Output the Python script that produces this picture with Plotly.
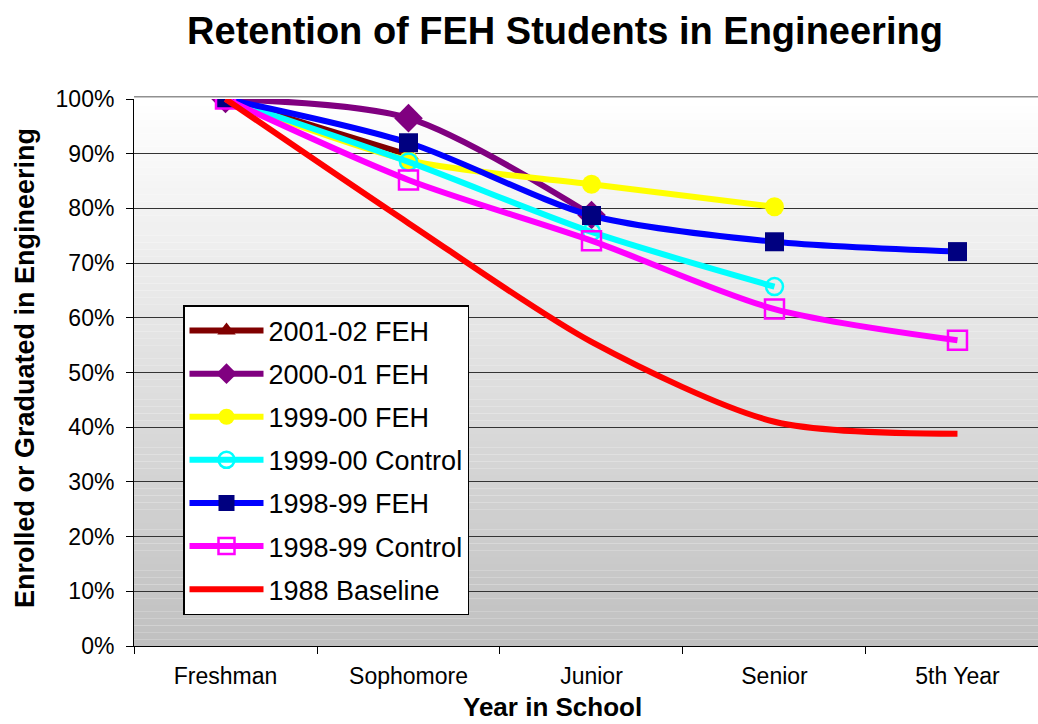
import plotly.graph_objects as go

years = ["Freshman", "Sophomore", "Junior", "Senior", "5th Year"]

feh_2001 = [1.00, 0.898]
feh_2000 = [1.00, 0.965, 0.788]
feh_1999 = [1.00, 0.888, 0.844, 0.803]
ctl_1999 = [1.00, 0.885, 0.757, 0.657]
feh_1998 = [1.00, 0.920, 0.787, 0.739, 0.721]
ctl_1998 = [1.00, 0.852, 0.741, 0.616, 0.559]
base_1988 = [1.00, 0.773, 0.556, 0.410, 0.388]

series = [
    ("2001-02 FEH", feh_2001, "#800000", dict(symbol="triangle-up", size=18, color="#800000")),
    ("2000-01 FEH", feh_2000, "#800080", dict(symbol="diamond", size=22, color="#800080")),
    ("1999-00 FEH", feh_1999, "#FFFF00", dict(symbol="circle", size=19, color="#FFFF00")),
    ("1999-00 Control", ctl_1999, "#00FFFF",
     dict(symbol="circle-open", size=17, color="#00FFFF", line=dict(width=2.5, color="#00FFFF"))),
    ("1998-99 FEH", feh_1998, "#0000FF", dict(symbol="square", size=19, color="#000080")),
    ("1998-99 Control", ctl_1998, "#FF00FF",
     dict(symbol="square-open", size=19, color="#FF00FF", line=dict(width=2.5, color="#FF00FF"))),
    ("1988 Baseline", base_1988, "#FF0000", None),
]

fig = go.Figure()
for i, (name, vals, col, mk) in enumerate(series):
    fig.add_trace(go.Scatter(
        x=years[:len(vals)], y=vals, name=name,
        mode="lines+markers" if mk else "lines",
        line=dict(color=col, width=6, shape="spline", smoothing=0.8),
        marker=mk, legendgroup=str(i),
    ))

# gradient plot background (white -> silver)
n = 80
for k in range(n):
    t = (k + 0.5) / n
    c = int(round(0xC0 + (0xFF - 0xC0) * t))
    fig.add_shape(type="rect", xref="paper", yref="paper", x0=0, x1=1,
                  y0=k / n, y1=(k + 1) / n, fillcolor=f"rgb({c},{c},{c})",
                  line=dict(width=0), layer="below")
# thin grey top border of the plot area
fig.add_shape(type="line", xref="paper", yref="paper", x0=0, x1=1, y0=1.004, y1=1.004,
              line=dict(color="#909090", width=1.5))

fig.add_annotation(text="<b>Year in School</b>", xref="paper", yref="paper",
                   x=(552 - 134) / 904, y=-61 / 547, xanchor="center", yanchor="middle",
                   showarrow=False, font=dict(size=26))
fig.add_annotation(text="<b>Enrolled or Graduated in Engineering</b>", xref="paper", yref="paper",
                   x=-109 / 904, y=(646 - 368) / 547, xanchor="center", yanchor="middle",
                   textangle=-90, showarrow=False, font=dict(size=27))

fig.update_layout(
    width=1038, height=724,
    paper_bgcolor="white", plot_bgcolor="rgba(0,0,0,0)",
    margin=dict(l=134, r=0, t=99, b=78),
    font=dict(family="Liberation Sans, Arial", color="black"),
    title=dict(text="<b>Retention of FEH Students in Engineering</b>",
               x=565 / 1038, xanchor="center", y=1 - 31 / 724, yanchor="middle",
               font=dict(size=38)),
    showlegend=True,
    legend=dict(x=(183 - 134) / 904, y=(646 - 305) / 547, xanchor="left", yanchor="top",
                bgcolor="white", bordercolor="black", borderwidth=1.5,
                font=dict(size=27), tracegroupgap=5, itemwidth=74),
)
fig.update_xaxes(
    type="category", categoryorder="array", categoryarray=years,
    range=[-0.5, 4.44], tickson="boundaries", ticks="outside", ticklen=7,
    tickcolor="black", showline=True, linecolor="black", linewidth=1,
    showgrid=False, tickfont=dict(size=23), automargin=False, ticklabelstandoff=9,
)
fig.update_yaxes(
    range=[0, 1.0], tickformat=".0%", dtick=0.1, ticks="outside", ticklen=7,
    tickcolor="black", showline=True, linecolor="black", linewidth=1,
    showgrid=True, gridcolor="#333333", gridwidth=1, zeroline=False,
    tickfont=dict(size=23), automargin=False, ticklabelstandoff=7,
)

fig.write_html("out.html", config={"displayModeBar": False},
               post_script="document.body.style.margin='0';document.body.style.overflow='hidden';")
